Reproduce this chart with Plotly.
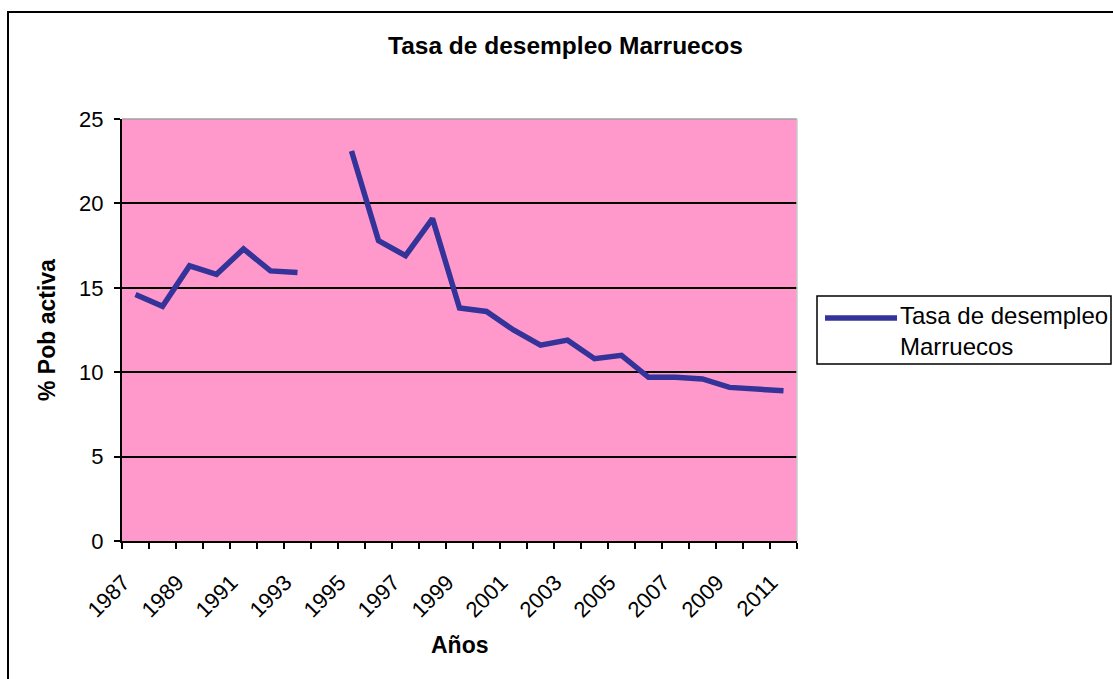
import plotly.graph_objects as go

years = list(range(1987, 2012))
unemployment = [14.6, 13.9, 16.3, 15.8, 17.3, 16.0, 15.9, None, 23.1, 17.8, 16.9, 19.1,
                13.8, 13.6, 12.5, 11.6, 11.9, 10.8, 11.0, 9.7, 9.7, 9.6, 9.1, 9.0, 8.9]
tick_years = list(range(1987, 2012, 2))
tick_labels = [str(y) for y in tick_years]
y_ticks = [0, 5, 10, 15, 20, 25]

series_name = "Tasa de desempleo Marruecos"
FONT = "Liberation Sans, Arial, sans-serif"
LINE_COLOR = "#333399"

W, H = 1113, 679
L, R, T, B = 122, 797, 119, 541


def px(xpix):
    return (xpix - L) / (R - L)


def py(ypix):
    return (B - ypix) / (B - T)


fig = go.Figure()
fig.add_trace(go.Scatter(
    x=years, y=unemployment, mode="lines", name=series_name,
    line=dict(color=LINE_COLOR, width=5.5), connectgaps=False, showlegend=False,
))

shapes = [
    # outer chart frame
    dict(type="rect", xref="paper", yref="paper", x0=px(8), x1=px(1300), y0=py(900), y1=py(12),
         line=dict(color="black", width=2), layer="below"),
    # plot area top / right borders (gray)
    dict(type="line", xref="paper", yref="paper", x0=0, x1=1, y0=1, y1=1,
         line=dict(color="#a0a0a0", width=1.5), layer="above"),
    dict(type="line", xref="paper", yref="paper", x0=1, x1=1, y0=0, y1=1,
         line=dict(color="#c8c8c8", width=1.5), layer="above"),
    # legend box
    dict(type="rect", xref="paper", yref="paper", x0=px(817), x1=px(1111), y0=py(364), y1=py(296),
         line=dict(color="black", width=1.5), fillcolor="white", layer="above"),
    dict(type="line", xref="paper", yref="paper", x0=px(825), x1=px(897), y0=py(318), y1=py(318),
         line=dict(color=LINE_COLOR, width=5.5), layer="above"),
]

annotations = [
    dict(text="<b>Tasa de desempleo Marruecos</b>", xref="paper", yref="paper",
         x=px(565), y=py(45), xanchor="center", yanchor="middle", showarrow=False,
         font=dict(family=FONT, size=24.5, color="black")),
    dict(text="<b>% Pob activa</b>", xref="paper", yref="paper", x=px(47), y=0.5,
         xanchor="center", yanchor="middle", textangle=-90, showarrow=False,
         font=dict(family=FONT, size=23, color="black")),
    dict(text="<b>Años</b>", xref="paper", yref="paper", x=0.5, y=py(645),
         xanchor="center", yanchor="middle", showarrow=False,
         font=dict(family=FONT, size=23, color="black")),
    dict(text="Tasa de desempleo<br>Marruecos", xref="paper", yref="paper", x=px(898), y=py(331),
         xanchor="left", yanchor="middle", align="left", showarrow=False,
         font=dict(family=FONT, size=24, color="black")),
]

fig.update_layout(
    width=W, height=H,
    margin=dict(l=L, r=W - R, t=T, b=H - B, pad=0),
    paper_bgcolor="white", plot_bgcolor="#FF99CC",
    font=dict(family=FONT, size=22, color="black"),
    shapes=shapes, annotations=annotations, showlegend=False,
    xaxis=dict(
        range=[1986.5, 2011.5], tickmode="array", tickvals=tick_years, ticktext=tick_labels,
        tickangle=-45, ticks="", showgrid=False, zeroline=False,
        showline=True, linecolor="black", linewidth=2,
        tickfont=dict(family=FONT, size=22, color="black"),
        ticklabelstandoff=18, ticklabelshift=-12,
        minor=dict(ticks="outside", tick0=1986.5, dtick=1, ticklen=6, tickcolor="black",
                   tickwidth=1.5, showgrid=False),
    ),
    yaxis=dict(
        range=[0, 25], tickmode="array", tickvals=y_ticks, ticks="outside", ticklen=6,
        tickcolor="black", tickwidth=1.5, showgrid=True, gridcolor="black", gridwidth=1.5,
        zeroline=False, showline=True, linecolor="black", linewidth=2,
        tickfont=dict(family=FONT, size=22, color="black"), ticklabelstandoff=6,
    ),
)

fig.write_html("out.html", config={"displayModeBar": False},
               post_script="document.body.style.margin='0';")
